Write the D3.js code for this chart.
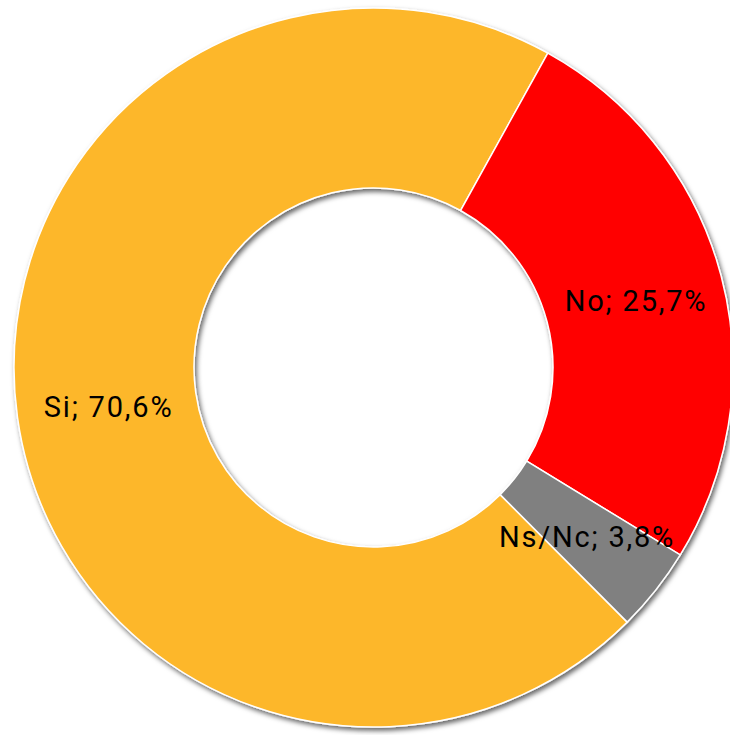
<!DOCTYPE html>
<html>
    <head>
        <meta charset="UTF-8">
        <script src="https://d3js.org/d3.v7.min.js"></script>
        <style>
            body { margin: 0; background: #fff; }
        </style>
    </head>

    <body>

        <svg id="canvas"></svg>

        <script>

            width = 730;
            height = 735;

            categories = ["Si", "No", "Ns/Nc"];
            values = [70.6, 25.7, 3.8];
            labels = ["Si; 70,6%", "No; 25,7%", "Ns/Nc; 3,8%"];
            colors = ["#FDB72B", "#FF0000", "#808080"];

            cx = 373.5;
            cy = 367.5;
            outerR = 359.5;
            innerR = 179.5;
            rotation = 135.1 * Math.PI / 180;

            canvas = d3.select("#canvas")
                .attr("width", width)
                .attr("height", height);

            defs = canvas.append("defs");
            defs.append("filter")
                .attr("id", "shadow")
                .attr("x", "-10%").attr("y", "-10%")
                .attr("width", "120%").attr("height", "120%")
                .append("feDropShadow")
                    .attr("dx", 2)
                    .attr("dy", 3)
                    .attr("stdDeviation", 2.5)
                    .attr("flood-color", "#000")
                    .attr("flood-opacity", 0.6);

            arc = d3.arc()
                .innerRadius(innerR)
                .outerRadius(outerR);

            pie = d3.pie()
                .sort(null)
                .startAngle(rotation)
                .endAngle(rotation + 2 * Math.PI)
                .value( (d) => d );

            arcs = pie(values);

            g = canvas.append("g")
                .attr("transform", "translate(" + cx + "," + cy + ")");

            g.append("g")
                .attr("filter", "url(#shadow)")
                .selectAll("path")
                .data(arcs)
                .enter()
                    .append("path")
                        .attr("d", arc)
                        .attr("fill", (d, i) => colors[i])
                        .attr("stroke", "#fff")
                        .attr("stroke-width", 1.5);

            // labels sit on the ring centroid, as Excel does
            g.selectAll("text")
                .data(arcs)
                .enter()
                    .append("text")
                        .attr("x", (d) => arc.centroid(d)[0] + 2)
                        .attr("y", (d) => arc.centroid(d)[1] + 12.5)
                        .attr("text-anchor", "middle")
                        .attr("font-family", "Roboto, sans-serif")
                        .attr("font-size", 29)
                        .attr("letter-spacing", 1.8)
                        .attr("fill", "#000")
                        .text((d, i) => labels[i]);

        </script>

    </body>

</html>
